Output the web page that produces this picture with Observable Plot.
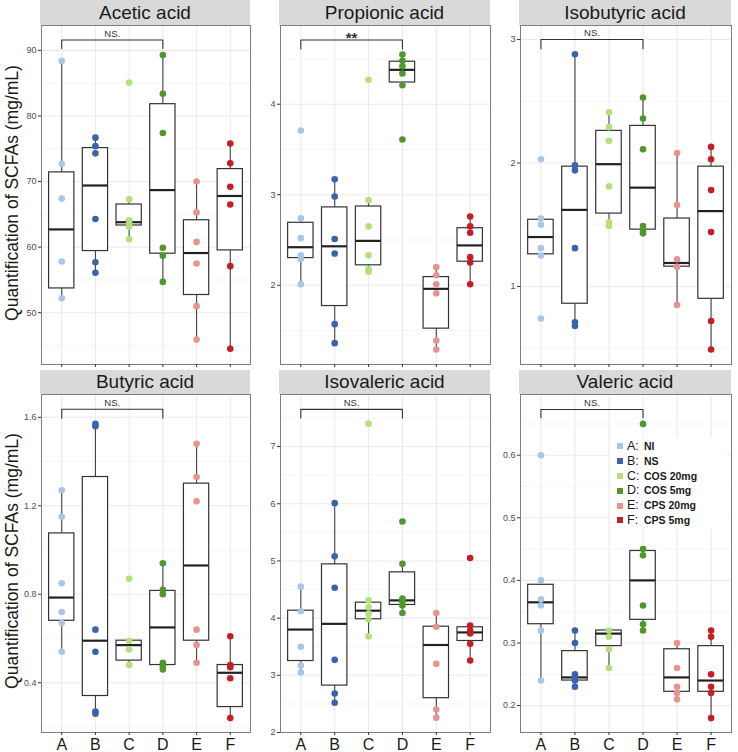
<!DOCTYPE html>
<html>
<head>
<meta charset="utf-8">
<script src="https://cdn.jsdelivr.net/npm/d3@7"></script>
<script src="https://cdn.jsdelivr.net/npm/@observablehq/plot@0.6"></script>
<style>
  body { margin: 0; background: #fff; font-family: "Liberation Sans", Arial, sans-serif; }
  #fig { position: relative; width: 738px; height: 752px; overflow: hidden; background: #fff; }
  .strip { position: absolute; background: #d9d9d9; color: #1a1a1a; font-size: 19px; text-align: center; }
  .ytitle { position: absolute; width: 360px; text-align: center; font-size: 17.5px; color: #1a1a1a;
            transform: translate(-50%, -50%) rotate(-90deg); white-space: nowrap; }
  .legend { position: absolute; background: #fff; }
  .legend .row { position: relative; height: 14.8px; line-height: 14.8px; white-space: nowrap; }
  .legend .sw { position: absolute; left: 7px; top: 4.4px; width: 6px; height: 6px; }
  .legend .k { position: absolute; left: 17px; font-size: 12.5px; color: #1a1a1a; }
  .legend .v { position: absolute; left: 34px; font-size: 10.5px; font-weight: bold; color: #1a1a1a; }
</style>
</head>
<body>
<div id="fig"></div>
<script>
// ---- categories ----
const groups = ["A", "B", "C", "D", "E", "F"];
const groupNames = ["NI", "NS", "COS 20mg", "COS 5mg", "CPS 20mg", "CPS 5mg"];
const groupColors = ["#a8c6e6", "#3b62ad", "#b4df7c", "#4d9a2a", "#e79393", "#c41f24"];
const yTitle = "Quantification of SCFAs (mg/mL)";

// ---- Acetic acid ----
const aceticPoints = [
  [88.4, 72.7, 67.4, 57.8, 52.2],
  [76.7, 75.4, 74.3, 64.3, 57.7, 56.1],
  [85.1, 67.3, 64.1, 63.6, 63.1, 61.2],
  [89.3, 83.4, 77.4, 59.9, 58.7, 54.7],
  [70.0, 65.3, 60.8, 57.5, 51.0, 45.9],
  [75.8, 72.8, 69.2, 66.5, 57.1, 44.5]
];
// [lower whisker, Q1, median, Q3, upper whisker]
const aceticBoxes = [
  [52.2, 53.7, 62.7, 71.4, 88.4],
  [56.1, 59.4, 69.4, 75.1, 76.7],
  [61.2, 63.3, 63.8, 66.5, 67.3],
  [54.7, 59.0, 68.7, 81.8, 89.3],
  [45.9, 52.7, 59.1, 64.1, 70.0],
  [44.5, 59.5, 67.8, 71.9, 75.8]
];
const aceticTicks = [50, 60, 70, 80, 90];
const aceticDomain = [42.1, 93.8];
const aceticBracket = [91.6, 90.3];
const aceticLabel = "NS.";

// ---- Propionic acid ----
const propionicPoints = [
  [3.71, 2.74, 2.52, 2.33, 2.29, 2.01],
  [3.17, 2.98, 2.51, 2.35, 1.57, 1.36],
  [4.27, 2.94, 2.65, 2.33, 2.18, 2.15],
  [4.55, 4.48, 4.42, 4.34, 4.21, 3.61],
  [2.20, 2.11, 2.01, 1.91, 1.39, 1.29],
  [2.76, 2.65, 2.58, 2.31, 2.25, 2.01]
];
const propionicBoxes = [
  [2.01, 2.30, 2.42, 2.69, 2.74],
  [1.36, 1.77, 2.43, 2.86, 3.17],
  [2.15, 2.22, 2.49, 2.87, 2.94],
  [4.21, 4.24, 4.38, 4.47, 4.55],
  [1.29, 1.52, 1.96, 2.09, 2.20],
  [2.01, 2.26, 2.44, 2.63, 2.76]
];
const propionicTicks = [2, 3, 4];
const propionicDomain = [1.124, 4.87];
const propionicBracket = [4.71, 4.61];
const propionicLabel = "**";

// ---- Isobutyric acid ----
const isobutyricPoints = [
  [2.03, 1.55, 1.50, 1.31, 1.25, 0.74],
  [2.88, 1.98, 1.94, 1.31, 0.71, 0.68],
  [2.41, 2.29, 2.18, 1.81, 1.52, 1.49],
  [2.53, 2.36, 2.11, 1.49, 1.45, 1.43],
  [2.08, 1.66, 1.22, 1.16, 0.85],
  [2.13, 2.03, 1.78, 1.44, 0.72, 0.49]
];
const isobutyricBoxes = [
  [1.26, 1.26, 1.40, 1.54, 1.55],
  [0.68, 0.86, 1.62, 1.97, 2.88],
  [1.49, 1.59, 1.99, 2.26, 2.41],
  [1.43, 1.46, 1.80, 2.30, 2.53],
  [0.85, 1.16, 1.19, 1.55, 2.08],
  [0.49, 0.90, 1.61, 1.97, 2.13]
];
const isobutyricTicks = [1, 2, 3];
const isobutyricDomain = [0.368, 3.113];
const isobutyricBracket = [3.0, 2.925];
const isobutyricLabel = "NS.";

// ---- Butyric acid ----
const butyricPoints = [
  [1.27, 1.15, 0.85, 0.72, 0.67, 0.54],
  [1.57, 1.56, 0.64, 0.54, 0.27, 0.26],
  [0.87, 0.59, 0.55, 0.48],
  [0.94, 0.82, 0.80, 0.49, 0.475, 0.46],
  [1.48, 1.33, 1.22, 0.64, 0.57, 0.49],
  [0.61, 0.48, 0.47, 0.42, 0.24]
];
const butyricBoxes = [
  [0.54, 0.68, 0.785, 1.075, 1.27],
  [0.26, 0.34, 0.59, 1.33, 1.57],
  [0.48, 0.50, 0.57, 0.59, 0.59],
  [0.46, 0.48, 0.65, 0.815, 0.94],
  [0.49, 0.59, 0.93, 1.30, 1.48],
  [0.24, 0.29, 0.445, 0.48, 0.61]
];
const butyricTicks = [0.4, 0.8, 1.2, 1.6];
const butyricDomain = [0.175, 1.703];
const butyricBracket = [1.636, 1.596];
const butyricLabel = "NS.";

// ---- Isovaleric acid ----
const isovalericPoints = [
  [4.55, 4.12, 3.50, 3.17, 3.05],
  [6.01, 5.08, 4.53, 3.27, 2.68, 2.52],
  [7.40, 4.31, 4.19, 4.08, 3.98, 3.68],
  [5.69, 4.95, 4.34, 4.29, 4.22, 4.09],
  [4.09, 3.85, 3.20, 2.40, 2.26],
  [5.05, 3.87, 3.78, 3.73, 3.55, 3.26]
];
const isovalericBoxes = [
  [3.05, 3.25, 3.80, 4.13, 4.55],
  [2.52, 2.82, 3.90, 4.94, 6.01],
  [3.68, 3.98, 4.13, 4.27, 4.31],
  [4.09, 4.23, 4.31, 4.80, 4.95],
  [2.26, 2.60, 3.53, 3.85, 4.09],
  [3.26, 3.60, 3.75, 3.84, 3.87]
];
const isovalericTicks = [2, 3, 4, 5, 6, 7];
const isovalericDomain = [2.0, 7.91];
const isovalericBracket = [7.65, 7.50];
const isovalericLabel = "NS.";

// ---- Valeric acid ----
const valericPoints = [
  [0.60, 0.40, 0.37, 0.36, 0.32, 0.24],
  [0.32, 0.30, 0.25, 0.245, 0.24, 0.23],
  [0.32, 0.31, 0.29, 0.26],
  [0.65, 0.45, 0.44, 0.36, 0.33, 0.32],
  [0.30, 0.26, 0.23, 0.22, 0.21],
  [0.32, 0.31, 0.25, 0.23, 0.22, 0.18]
];
const valericBoxes = [
  [0.24, 0.33, 0.365, 0.393, 0.40],
  [0.23, 0.24, 0.245, 0.287, 0.32],
  [0.26, 0.295, 0.315, 0.32, 0.32],
  [0.32, 0.337, 0.40, 0.447, 0.45],
  [0.21, 0.222, 0.245, 0.29, 0.30],
  [0.18, 0.222, 0.24, 0.295, 0.32]
];
const valericTicks = [0.2, 0.3, 0.4, 0.5, 0.6];
const valericDomain = [0.157, 0.697];
const valericBracket = [0.673, 0.660];
const valericLabel = "NS.";

// ---- layout (in code, not in data) ----
const fig = document.getElementById("fig");
const cols = [
  {svgLeft: 0, mLeft: 41, width: 250},
  {svgLeft: 250, mLeft: 30, width: 240},
  {svgLeft: 490, mLeft: 30, width: 241}
];
const rows = [
  {stripTop: 0, stripH: 25, svgTop: 25, plotH: 339, mBottom: 4, labels: false},
  {stripTop: 370, stripH: 24, svgTop: 394, plotH: 338, mBottom: 20, labels: true}
];

const panels = [
  {name: "Acetic acid", points: aceticPoints, boxes: aceticBoxes, ticks: aceticTicks, domain: aceticDomain, bracket: aceticBracket, label: aceticLabel},
  {name: "Propionic acid", points: propionicPoints, boxes: propionicBoxes, ticks: propionicTicks, domain: propionicDomain, bracket: propionicBracket, label: propionicLabel},
  {name: "Isobutyric acid", points: isobutyricPoints, boxes: isobutyricBoxes, ticks: isobutyricTicks, domain: isobutyricDomain, bracket: isobutyricBracket, label: isobutyricLabel},
  {name: "Butyric acid", points: butyricPoints, boxes: butyricBoxes, ticks: butyricTicks, domain: butyricDomain, bracket: butyricBracket, label: butyricLabel},
  {name: "Isovaleric acid", points: isovalericPoints, boxes: isovalericBoxes, ticks: isovalericTicks, domain: isovalericDomain, bracket: isovalericBracket, label: isovalericLabel},
  {name: "Valeric acid", points: valericPoints, boxes: valericBoxes, ticks: valericTicks, domain: valericDomain, bracket: valericBracket, label: valericLabel}
];

const xPos = groups.map((g, i) => i + 1);
const halfW = 0.375;
const fmtTick = d => String(+(+d).toFixed(6));

panels.forEach((p, k) => {
  const col = cols[k % 3];
  const row = rows[Math.floor(k / 3)];

  const pts = p.points.flatMap((vals, i) => vals.map(v => ({x: i + 1, v, g: groups[i]})));
  const bx = p.boxes.map((b, i) => ({x: i + 1, lo: b[0], q1: b[1], med: b[2], q3: b[3], hi: b[4]}));
  const step = p.ticks[1] - p.ticks[0];
  const minor = d3.range(p.ticks[0] - step / 2, p.domain[1], step).filter(v => v > p.domain[0]);
  const br = [
    {x: 1, v: p.bracket[1]}, {x: 1, v: p.bracket[0]},
    {x: 4, v: p.bracket[0]}, {x: 4, v: p.bracket[1]}
  ];
  const isStar = p.label === "**";

  const svg = Plot.plot({
    width: col.width,
    height: row.plotH + row.mBottom,
    marginLeft: col.mLeft,
    marginRight: 0,
    marginTop: 0,
    marginBottom: row.mBottom,
    style: {background: "transparent", fontFamily: "Liberation Sans, Arial, sans-serif", overflow: "visible"},
    x: {domain: [0.4, 6.6], axis: null},
    y: {domain: p.domain, axis: null},
    color: {domain: groups, range: groupColors},
    marks: [
      Plot.ruleY(minor, {stroke: "#f3f3f3", strokeWidth: 0.8}),
      Plot.ruleY(p.ticks, {stroke: "#ebebeb", strokeWidth: 1.1}),
      Plot.ruleX(xPos, {stroke: "#ebebeb", strokeWidth: 1.1}),
      Plot.ruleX(bx, {x: "x", y1: "lo", y2: "hi", stroke: "#444", strokeWidth: 1.1}),
      Plot.rect(bx, {x1: d => d.x - halfW, x2: d => d.x + halfW, y1: "q1", y2: "q3",
                     fill: "white", stroke: "#333", strokeWidth: 1.2}),
      Plot.ruleY(bx, {x1: d => d.x - halfW, x2: d => d.x + halfW, y: "med", stroke: "#222", strokeWidth: 2.2}),
      Plot.dot(pts, {x: "x", y: "v", fill: "g", r: 3.3}),
      Plot.line(br, {x: "x", y: "v", stroke: "#333", strokeWidth: 1.1}),
      Plot.text([p.label], {x: [2.5], y: [p.bracket[0]], text: d => d,
                            fontSize: isStar ? 15 : 9.5, fontWeight: isStar ? "bold" : "normal",
                            fill: "#333", dy: isStar ? -2 : -6.3}),
      Plot.frame({stroke: "#7f7f7f", strokeWidth: 1}),
      Plot.axisY({ticks: p.ticks, tickSize: 3, tickPadding: 2, fontSize: 9, fill: "#4d4d4d", stroke: "#333",
                  label: null, tickFormat: fmtTick}),
      Plot.axisX({ticks: xPos, tickSize: 3, tickPadding: 3, fontSize: 16, fill: "#1a1a1a", stroke: "#333", label: null,
                  tickFormat: row.labels ? (i => groups[i - 1]) : (() => "")})
    ]
  });
  svg.style.position = "absolute";
  svg.style.left = col.svgLeft + "px";
  svg.style.top = row.svgTop + "px";
  fig.appendChild(svg);

  const strip = document.createElement("div");
  strip.className = "strip";
  strip.textContent = p.name;
  strip.style.left = (col.svgLeft + col.mLeft - 1) + "px";
  strip.style.width = (col.width - col.mLeft + 1) + "px";
  strip.style.top = row.stripTop + "px";
  strip.style.height = row.stripH + "px";
  strip.style.lineHeight = row.stripH + "px";
  fig.appendChild(strip);
});

// y-axis titles
rows.forEach(row => {
  const t = document.createElement("div");
  t.className = "ytitle";
  t.textContent = yTitle;
  t.style.left = "12px";
  t.style.top = (row.svgTop + row.plotH / 2 - 2) + "px";
  fig.appendChild(t);
});

// legend
const legend = document.createElement("div");
legend.className = "legend";
legend.style.left = "610px";
legend.style.top = "437px";
legend.style.width = "117px";
legend.style.height = "92px";
legend.style.paddingTop = "2px";
legend.style.boxSizing = "border-box";
groups.forEach((g, i) => {
  const r = document.createElement("div");
  r.className = "row";
  r.innerHTML = `<span class="sw" style="background:${groupColors[i]}"></span><span class="k">${g}:</span><span class="v">${groupNames[i]}</span>`;
  legend.appendChild(r);
});
fig.appendChild(legend);
</script>
</body>
</html>
